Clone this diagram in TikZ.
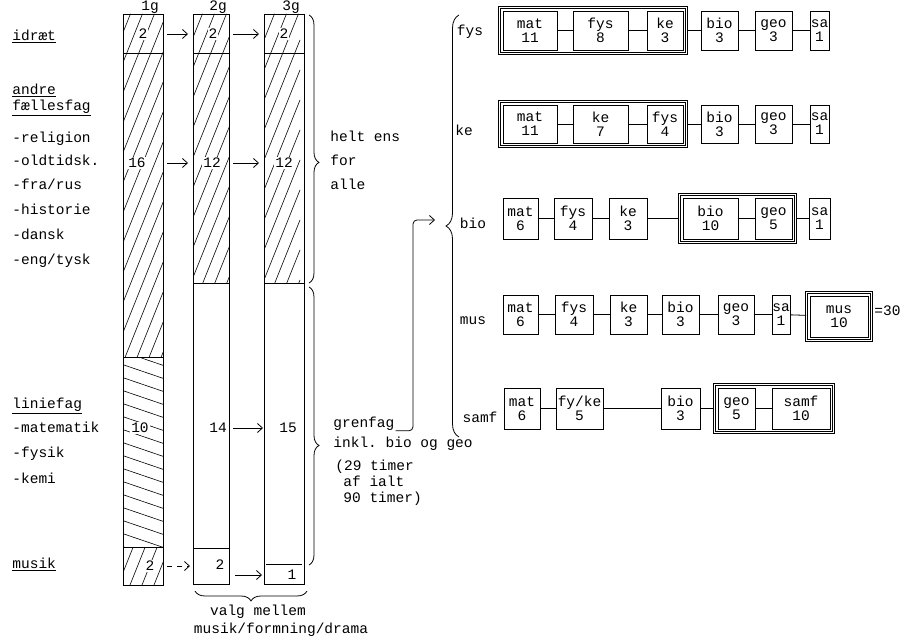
\documentclass[tikz,border=0pt]{standalone}
\usepackage{fontspec}
\setmonofont{Liberation Mono}
\usetikzlibrary{arrows.meta,decorations.pathreplacing,fit}

\tikzset{
  tw/.style={font=\fontsize{14.5}{14}\selectfont\ttfamily},
  lbl/.style={tw, anchor=west, text height=1.6ex, text depth=0.3ex, inner sep=0pt},
  num/.style={tw, fill=white, inner sep=1pt},
  fag/.style={draw, tw, align=center, inner sep=0pt, minimum height=39pt},
  grp/.style={draw, double, double distance=1.2pt, inner sep=3pt},
  hatch/.style={line width=0.6pt},
  >={Straight Barb[length=5pt,width=9pt]},
}

\begin{document}
\begin{tikzpicture}[x=1pt, y=-1pt, line width=0.8pt]
\useasboundingbox (0,0) rectangle (903,639);

% the three years
\draw (123,14) rectangle (163,585);
\draw (193,14) rectangle (229,584);
\draw (264,14) rectangle (304,584);
\draw (123,53) -- (163,53) (193,53) -- (229,53) (264,53) -- (304,53);
\draw (123,357) -- (163,357) (123,547) -- (163,547);
\draw (193,283) -- (229,283) (264,283) -- (304,283);
\draw (193,548) -- (229,548) (266,564) -- (302,564);

\begin{scope}[hatch]
\clip (123,14) rectangle (163,357) (123,547) rectangle (163,585)
      (193,14) rectangle (229,283) (264,14) rectangle (304,283);
\foreach \k in {0,30,...,840} \draw (100,\k) -- ++(200,-500);
\end{scope}
\begin{scope}[hatch]
\clip (123,357) rectangle (163,547);
\foreach \k in {350,363,...,550} \draw (118,\k) -- ++(50,17);
\end{scope}

\node[tw, anchor=base] (h1) at (150,11) {1g};
\node[tw, anchor=base] (h2) at (218,11) {2g};
\node[tw, anchor=base] (h3) at (291,11) {3g};

\node[num] (i1) at (143,34) {2};
\node[num] (i2) at (213,34) {2};
\node[num] (i3) at (284,34) {2};
\node[num] (f1) at (137,163) {16};
\node[num] (f2) at (212,163) {12};
\node[num] (f3) at (284,163) {12};
\node[num] (l1) at (140,428) {10};
\node[num] (g2) at (218,428) {14};
\node[num] (g3) at (288,428) {15};
\node[num] (m1) at (150,566) {2};
\node[num] (m2) at (220,565) {2};
\node[num] (m3) at (292,575) {1};

\coordinate (b1r) at (163,0);
\coordinate (b2l) at (193,0);
\coordinate (b2r) at (229,0);
\coordinate (b3l) at (264,0);

\draw[->] ([xshift=4pt]b1r |- i1) -- ([xshift=-5pt]b2l |- i1);
\draw[->] ([xshift=4pt]b2r |- i2) -- ([xshift=-5pt]b3l |- i2);
\draw[->] ([xshift=4pt]b1r |- f1) -- ([xshift=-5pt]b2l |- f1);
\draw[->] ([xshift=4pt]b2r |- f2) -- ([xshift=-5pt]b3l |- f2);
\draw[->] ([xshift=4pt]b2r |- g2) -- ([xshift=-1pt]b3l |- g2);
\draw[->, dash pattern=on 5pt off 5pt] ([xshift=4pt]b1r |- m1) -- ([xshift=-3pt]b2l |- m1);
\draw[->] ([xshift=6pt]b2r |- m3) -- ([xshift=-2pt]b3l |- m3);

% subjects on the left
\node[lbl] (tid) at (12,38) {\underline{idræt}};
\node[lbl] (tand) at (12,92) {\underline{andre}};
\node[lbl] (tfael) at (12,108) {\underline{fællesfag}};
\node[lbl] (trel) at (12,140) {-religion};
\node[lbl] (told) at (12,163) {-oldtidsk.};
\node[lbl] (tfra) at (12,187) {-fra/rus};
\node[lbl] (this) at (12,212) {-historie};
\node[lbl] (tdan) at (12,237) {-dansk};
\node[lbl] (teng) at (12,262) {-eng/tysk};
\node[lbl] (tlin) at (12,406) {\underline{liniefag}};
\node[lbl] (tmat) at (12,430) {-matematik};
\node[lbl] (tfys) at (12,455) {-fysik};
\node[lbl] (tkem) at (12,481) {-kemi};
\node[lbl] (tmus) at (12,566) {\underline{musik}};

% braces
\draw[decorate, decoration={brace, amplitude=10pt, aspect=0.55}] (309,15) -- (309,283);
\draw[decorate, decoration={brace, amplitude=10pt, aspect=0.57}] (309,287) -- (309,565);
\draw[decorate, decoration={brace, amplitude=10pt}] (307,591) -- (195,591);
\draw[decorate, decoration={brace, amplitude=13pt}] (459,437) -- (459,15);

\node[lbl] (helt) at (330,139) {helt ens};
\node[lbl] (for) at (330,163) {for};
\node[lbl] (alle) at (330,187) {alle};
\node[lbl] (gren) at (333,425) {grenfag};
\node[lbl] (inkl) at (333,445) {inkl. bio og geo};
\node[lbl] (tim1) at (335,468) {(29 timer};
\node[lbl] (tim2) at (343,484) {af ialt};
\node[lbl] (tim3) at (343,500) {90 timer)};
\node[tw] (valg) at (258,612) {valg mellem};
\node[tw] (mfd) at (281,630) {musik/formning/drama};

\coordinate (btip) at (435,220);
\coordinate (gcor) at (413,0);
\draw[->, rounded corners=4pt] ([shift={(1,3)}]gren.base east) -| (gcor |- btip) -- (btip);

% branches
\node[tw] (rfys) at (470,32) {fys};
\node[fag, minimum width=54pt] (fmat) at (530,30.5) {mat\\11};
\node[fag, minimum width=55pt] (ffys) at (600.5,30.5) {fys\\8};
\node[fag, minimum width=36pt] (fke) at (665,30.5) {ke\\3};
\node[fag, minimum width=37pt] (fbio) at (719.5,30.5) {bio\\3};
\node[fag, minimum width=37pt] (fgeo) at (773.5,30.5) {geo\\3};
\node[fag, minimum width=19pt] (fsa) at (819.5,30.5) {sa\\1};
\node[grp, fit=(fmat)(fke)] (fgrp) {};
\draw (fmat) -- (ffys);
\draw (ffys) -- (fke);
\draw (fgrp) -- (fbio);
\draw (fbio) -- (fgeo);
\draw (fgeo) -- (fsa);

\node[tw] (rke) at (464,130) {ke};
\node[fag, minimum width=54pt, minimum height=38pt] (kmat) at (530,124) {mat\\11};
\node[fag, minimum width=55pt, minimum height=38pt] (kke) at (600.5,124) {ke\\7};
\node[fag, minimum width=36pt, minimum height=38pt] (kfys) at (665,124) {fys\\4};
\node[fag, minimum width=37pt, minimum height=38pt] (kbio) at (719.5,124) {bio\\3};
\node[fag, minimum width=37pt, minimum height=38pt] (kgeo) at (773.5,124) {geo\\3};
\node[fag, minimum width=19pt, minimum height=38pt] (ksa) at (819.5,124) {sa\\1};
\node[grp, fit=(kmat)(kfys)] (kgrp) {};
\draw (kmat) -- (kke);
\draw (kke) -- (kfys);
\draw (kgrp) -- (kbio);
\draw (kbio) -- (kgeo);
\draw (kgeo) -- (ksa);

\node[tw] (rbio) at (473,223) {bio};
\node[fag, minimum width=35pt, minimum height=41pt] (bmat) at (520.5,218.5) {mat\\6};
\node[fag, minimum width=38pt, minimum height=41pt] (bfys) at (573,218.5) {fys\\4};
\node[fag, minimum width=38pt, minimum height=41pt] (bke) at (628,218.5) {ke\\3};
\node[fag, minimum width=55pt, minimum height=41pt] (bbio) at (710.5,218.5) {bio\\10};
\node[fag, minimum width=37pt, minimum height=41pt] (bgeo) at (773.5,218.5) {geo\\5};
\node[fag, minimum width=21pt, minimum height=41pt] (bsa) at (819.5,218.5) {sa\\1};
\node[grp, fit=(bbio)(bgeo)] (bgrp) {};
\draw (bmat) -- (bfys);
\draw (bfys) -- (bke);
\draw (bke) -- (bgrp);
\draw (bbio) -- (bgeo);
\draw (bgrp) -- (bsa);

\node[tw] (rmus) at (473,321) {mus};
\node[fag, minimum width=35pt] (mmat) at (520.5,314.5) {mat\\6};
\node[fag, minimum width=38pt] (mfys) at (574,314.5) {fys\\4};
\node[fag, minimum width=37pt] (mke) at (628.5,314.5) {ke\\3};
\node[fag, minimum width=37pt] (mbio) at (680.5,314.5) {bio\\3};
\node[fag, minimum width=36pt] (mgeo) at (736,314.5) {geo\\3};
\node[fag, minimum width=18pt] (msa) at (781,314.5) {sa\\1};
\node[fag, minimum width=58pt, minimum height=41pt] (mmus) at (839,316.5) {mus\\10};
\node[grp, fit=(mmus)] (mgrp) {};
\node[lbl] (tot) at (874,313) {=30};
\draw (mmat) -- (mfys);
\draw (mfys) -- (mke);
\draw (mke) -- (mbio);
\draw (mbio) -- (mgeo);
\draw (mgeo) -- (msa);
\draw (msa) -- (mgrp);

\node[tw] (rsamf) at (480,417) {samf};
\node[fag, minimum width=36pt, minimum height=41pt] (smat) at (522,408.5) {mat\\6};
\node[fag, minimum width=47pt, minimum height=41pt] (sfyke) at (579.5,408.5) {fy/ke\\5};
\node[fag, minimum width=39pt, minimum height=41pt] (sbio) at (680.5,408.5) {bio\\3};
\node[fag, minimum width=37pt, minimum height=41pt] (sgeo) at (736.5,408.5) {geo\\5};
\node[fag, minimum width=58pt, minimum height=41pt] (ssamf) at (801,408.5) {samf\\10};
\node[grp, fit=(sgeo)(ssamf)] (sgrp) {};
\draw (smat) -- (sfyke);
\draw (sfyke) -- (sbio);
\draw (sbio) -- (sgrp);
\draw (sgeo) -- (ssamf);

\end{tikzpicture}
\end{document}
